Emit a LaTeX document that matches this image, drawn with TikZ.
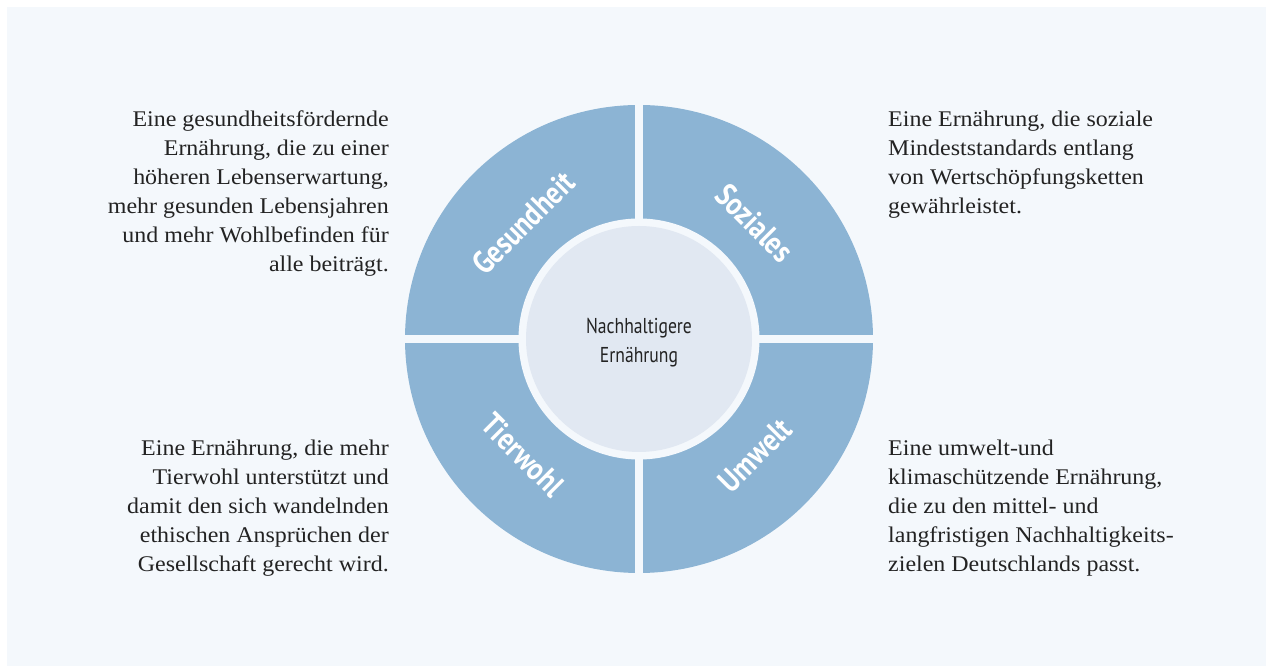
\documentclass[tikz,border=0pt]{standalone}
\usepackage{fontspec}
\setmainfont[FakeStretch=1.07]{Liberation Serif}
\newfontfamily\condfont[FakeStretch=0.82]{PT Sans}
\newfontfamily\labfont[FakeStretch=0.84]{PT Sans}
\definecolor{panel}{HTML}{F4F8FC}
\definecolor{seg}{HTML}{8CB4D4}
\definecolor{innerc}{HTML}{E1E8F2}
\definecolor{txt}{HTML}{232323}
\tikzset{
  desc/.style={inner sep=0pt, text=txt, font=\fontsize{22.4}{29}\selectfont},
  lbl/.style={inner sep=0pt, text=white, font=\labfont\bfseries\fontsize{32}{35}\selectfont},
  ctr/.style={inner sep=0pt, text=txt, align=center, font=\condfont\fontsize{21.5}{28.5}\selectfont}
}
\begin{document}
\begin{tikzpicture}[x=1pt,y=1pt]
\useasboundingbox (0,0) rectangle (1266,666);
\fill[white] (0,0) rectangle (1266,666);
\fill[panel] (7,0) rectangle (1266,659);
\coordinate (c) at (639,327);
\fill[seg] (c) circle (234);
\fill[panel] (635.3,90) rectangle (642.7,564);
\fill[panel] (402,323.3) rectangle (876,330.7);
\fill[panel] (c) circle (120.5);
\fill[innerc] (c) circle (113);
\node[ctr] (mid) at (639,323.5) {Nachhaltigere\\Ernährung};
\node[lbl, rotate=45] (ges) at ([shift={(135:164)}]c) {Gesundheit};
\node[lbl, rotate=-45] (soz) at ([shift={(45:164)}]c) {Soziales};
\node[lbl, rotate=-45] (tier) at ([shift={(225:164)}]c) {Tierwohl};
\node[lbl, rotate=45] (umw) at ([shift={(-45:164)}]c) {Umwelt};
\node[desc, anchor=north east, align=right] (tl) at (389,555.5) {Eine gesundheitsfördernde\\Ernährung, die zu einer\\höheren Lebenserwartung,\\mehr gesunden Lebensjahren\\und mehr Wohlbefinden für\\alle beiträgt.};
\node[desc, anchor=north west, align=left] (tr) at (888,555.5) {Eine Ernährung, die soziale\\Mindeststandards entlang\\von Wertschöpfungsketten\\gewährleistet.};
\node[desc, anchor=north east, align=right] (bl) at (389,226.5) {Eine Ernährung, die mehr\\Tierwohl unterstützt und\\damit den sich wandelnden\\ethischen Ansprüchen der\\Gesellschaft gerecht wird.};
\node[desc, anchor=north west, align=left] (br) at (888,226.5) {Eine umwelt-und\\klimaschützende Ernährung,\\die zu den mittel- und\\langfristigen Nachhaltigkeits-\\zielen Deutschlands passt.};
\end{tikzpicture}
\end{document}
